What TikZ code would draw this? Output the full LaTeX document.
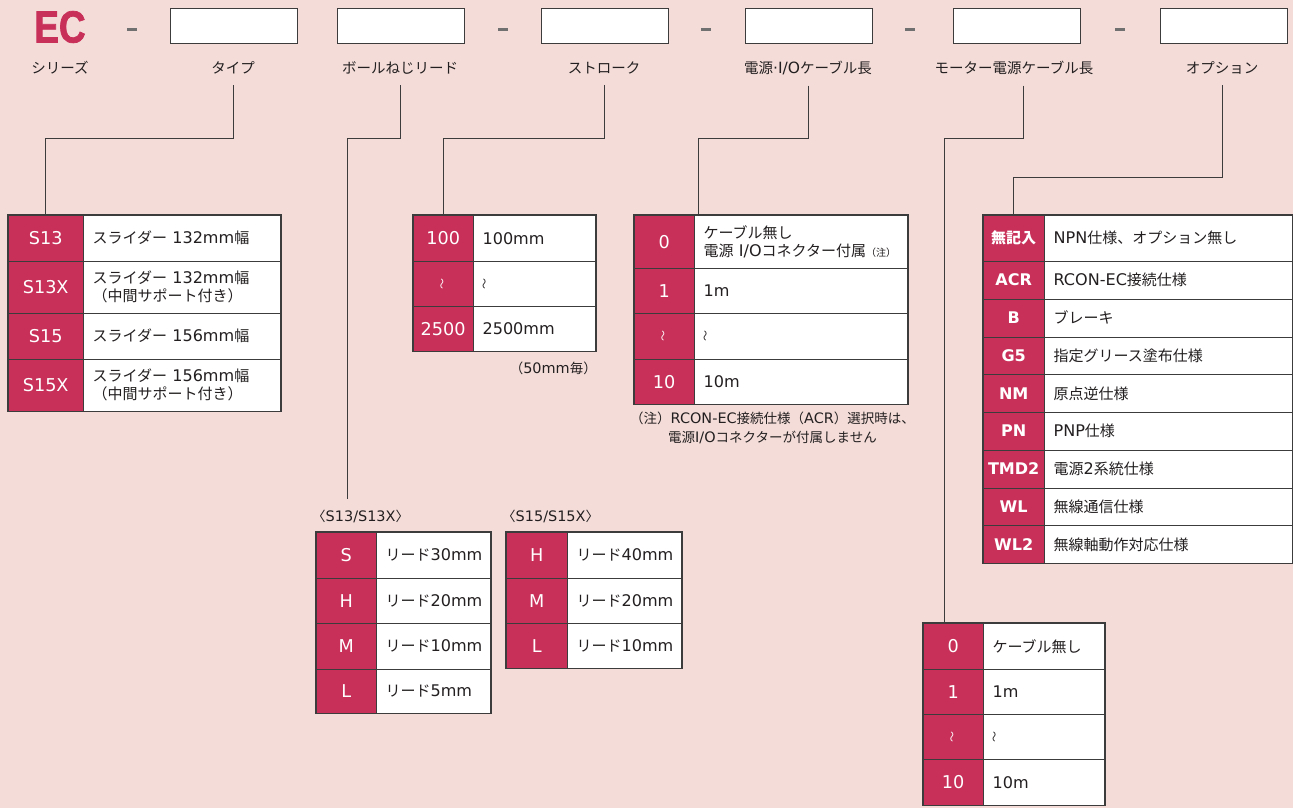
\documentclass[tikz,border=0pt]{standalone}
\usepackage{fontspec}
\usepackage{graphicx}
\usetikzlibrary{positioning}
\setmainfont{DejaVu Sans}[Scale=1.07]
\newfontfamily\lafont{DejaVu Sans}[Scale=1.07]
\newfontfamily\jafont{Noto Sans CJK JP}
\newfontfamily\ecfont{Liberation Sans Bold}[FakeStretch=0.82, FakeBold=1.6]
% Japanese runs switch to the CJK font by themselves
\makeatletter
\newXeTeXintercharclass\jaclass
\newcommand\setjarange[2]{\count@=#1\relax
  \loop\XeTeXcharclass\count@=\jaclass\relax\ifnum\count@<#2\advance\count@\@ne\repeat}
\setjarange{"3000}{"30FF}
\setjarange{"4E00}{"9FFF}
\setjarange{"FF00}{"FFEF}
\makeatother
\XeTeXinterchartoks 0 \jaclass = {\jafont}
\XeTeXinterchartoks 4095 \jaclass = {\jafont}
\XeTeXinterchartoks \jaclass 0 = {\lafont}
\XeTeXinterchartoks \jaclass 4095 = {\lafont}
\XeTeXinterchartokenstate=1
\definecolor{bgpink}{HTML}{F4DDD9}
\definecolor{ecred}{HTML}{C8305A}
\definecolor{inkgray}{HTML}{3C3C3C}
\definecolor{dashgray}{HTML}{707070}
\definecolor{txtdark}{HTML}{231F20}
\newcommand\tabfont{\fontsize{15}{18}\selectfont}
\newcommand\codefont{\fontsize{16.5}{18}\selectfont}
\newcommand\lblfont{\fontsize{14.5}{17}\selectfont}
\newcommand\notefont{\fontsize{13.5}{19}\selectfont}
\newcommand\wv{\rotatebox[origin=c]{90}{\fontsize{11}{11}\selectfont 〜}}
\begin{document}
\begin{tikzpicture}[x=1pt, y=-1pt,
    codecell/.style={draw=inkgray, fill=ecred, text=white, anchor=north west, inner sep=0pt, font=\codefont},
    optcell/.style={codecell, font=\tabfont\bfseries},
    desccell/.style={draw=inkgray, fill=white, text=txtdark, align=left, inner xsep=9pt, inner ysep=0pt, font=\tabfont},
    tabframe/.style={draw=inkgray, line width=1.4pt},
    slot/.style={draw=inkgray, fill=white, line width=1pt, anchor=north west, minimum width=127, minimum height=35, inner sep=0pt},
    bar/.style={fill=dashgray, minimum width=10, minimum height=3, inner sep=0pt},
    lbl/.style={text=txtdark, font=\lblfont},
    conn/.style={draw=inkgray, line width=1pt},
    note/.style={text=txtdark, font=\notefont, inner sep=0pt}]
    \path[use as bounding box, fill=bgpink] (0,0) rectangle (1293,808);

    % model code header
    \node (ec) at (60,27) [text=ecred, font=\ecfont\fontsize{45}{45}\selectfont, inner sep=0pt] {EC};
    \node (d1) at (132,30) [bar] {};
    \node (b1) at (170,8) [slot] {};
    \node (b2) at (337,8) [slot] {};
    \node (d2) at (503,30) [bar] {};
    \node (b3) at (541,8) [slot] {};
    \node (d3) at (706,30) [bar] {};
    \node (b4) at (745,8) [slot] {};
    \node (d4) at (910,30) [bar] {};
    \node (b5) at (953,8) [slot] {};
    \node (d5) at (1120,30) [bar] {};
    \node (b6) at (1160,8) [slot] {};

    \node (lbseries) at (60,68) [lbl] {シリーズ};
    \node (lbtype) at (233,68) [lbl] {タイプ};
    \node (lblead) at (400,68) [lbl] {ボールねじリード};
    \node (lbstroke) at (604,68) [lbl] {ストローク};
    \node (lbcable) at (808,68) [lbl] {電源·I/Oケーブル長};
    \node (lbmotor) at (1014,68) [lbl] {モーター電源ケーブル長};
    \node (lbopt) at (1222,68) [lbl] {オプション};

    % type
    \node (t1c) at (8,215) [codecell, minimum width=75, minimum height=46] {S13};
    \node (t1d) [desccell, right=0pt of t1c, text width=179, minimum height=46] {スライダー 132mm幅};
    \node (t2c) at (8,261) [codecell, minimum width=75, minimum height=52] {S13X};
    \node (t2d) [desccell, right=0pt of t2c, text width=179, minimum height=52] {スライダー 132mm幅\\（中間サポート付き）};
    \node (t3c) at (8,313) [codecell, minimum width=75, minimum height=46] {S15};
    \node (t3d) [desccell, right=0pt of t3c, text width=179, minimum height=46] {スライダー 156mm幅};
    \node (t4c) at (8,359) [codecell, minimum width=75, minimum height=52] {S15X};
    \node (t4d) [desccell, right=0pt of t4c, text width=179, minimum height=52] {スライダー 156mm幅\\（中間サポート付き）};
    \draw[tabframe] (t1c.north west) rectangle (t4d.south east);

    % stroke
    \node (s1c) at (413,215) [codecell, minimum width=60, minimum height=46] {100};
    \node (s1d) [desccell, right=0pt of s1c, text width=104, minimum height=46] {100mm};
    \node (s2c) at (413,261) [codecell, minimum width=60, minimum height=45] {\wv};
    \node (s2d) [desccell, right=0pt of s2c, text width=104, minimum height=45] {\wv};
    \node (s3c) at (413,306) [codecell, minimum width=60, minimum height=45] {2500};
    \node (s3d) [desccell, right=0pt of s3c, text width=104, minimum height=45] {2500mm};
    \draw[tabframe] (s1c.north west) rectangle (s3d.south east);
    \node (spitch) at (597,368) [note, anchor=east] {（50mm毎）};

    % power / I/O cable
    \node (p1c) at (634,215) [codecell, minimum width=60, minimum height=53] {0};
    \node (p1d) [desccell, right=0pt of p1c, text width=195, minimum height=53] {ケーブル無し\\電源 I/Oコネクター付属{\fontsize{10}{10}\selectfont（注）}};
    \node (p2c) at (634,268) [codecell, minimum width=60, minimum height=45] {1};
    \node (p2d) [desccell, right=0pt of p2c, text width=195, minimum height=45] {1m};
    \node (p3c) at (634,313) [codecell, minimum width=60, minimum height=46] {\wv};
    \node (p3d) [desccell, right=0pt of p3c, text width=195, minimum height=46] {\wv};
    \node (p4c) at (634,359) [codecell, minimum width=60, minimum height=45] {10};
    \node (p4d) [desccell, right=0pt of p4c, text width=195, minimum height=45] {10m};
    \draw[tabframe] (p1c.north west) rectangle (p4d.south east);
    \node (pnote) at (630,412) [note, anchor=north west, align=left] {（注）RCON-EC接続仕様（ACR）選択時は、\\\hspace{38pt}電源I/Oコネクターが付属しません};

    % options
    \node (o1c) at (983,215) [optcell, minimum width=61, minimum height=46] {無記入};
    \node (o1d) [desccell, right=0pt of o1c, text width=230, minimum height=46] {NPN仕様、オプション無し};
    \node (o2c) at (983,261) [optcell, minimum width=61, minimum height=37.75] {ACR};
    \node (o2d) [desccell, right=0pt of o2c, text width=230, minimum height=37.75] {RCON-EC接続仕様};
    \node (o3c) at (983,298.75) [optcell, minimum width=61, minimum height=37.75] {B};
    \node (o3d) [desccell, right=0pt of o3c, text width=230, minimum height=37.75] {ブレーキ};
    \node (o4c) at (983,336.5) [optcell, minimum width=61, minimum height=37.75] {G5};
    \node (o4d) [desccell, right=0pt of o4c, text width=230, minimum height=37.75] {指定グリース塗布仕様};
    \node (o5c) at (983,374.25) [optcell, minimum width=61, minimum height=37.75] {NM};
    \node (o5d) [desccell, right=0pt of o5c, text width=230, minimum height=37.75] {原点逆仕様};
    \node (o6c) at (983,412) [optcell, minimum width=61, minimum height=37.75] {PN};
    \node (o6d) [desccell, right=0pt of o6c, text width=230, minimum height=37.75] {PNP仕様};
    \node (o7c) at (983,449.75) [optcell, minimum width=61, minimum height=37.75] {TMD2};
    \node (o7d) [desccell, right=0pt of o7c, text width=230, minimum height=37.75] {電源2系統仕様};
    \node (o8c) at (983,487.5) [optcell, minimum width=61, minimum height=37.75] {WL};
    \node (o8d) [desccell, right=0pt of o8c, text width=230, minimum height=37.75] {無線通信仕様};
    \node (o9c) at (983,525.25) [optcell, minimum width=61, minimum height=37.75] {WL2};
    \node (o9d) [desccell, right=0pt of o9c, text width=230, minimum height=37.75] {無線軸動作対応仕様};
    \draw[tabframe] (o1c.north west) rectangle (o9d.south east);

    % ball screw lead
    \node (l13lab) at (312,516) [note, anchor=west] {〈S13/S13X〉};
    \node (a1c) at (316,532) [codecell, minimum width=60, minimum height=46] {S};
    \node (a1d) [desccell, right=0pt of a1c, text width=96, minimum height=46] {リード30mm};
    \node (a2c) at (316,578) [codecell, minimum width=60, minimum height=45] {H};
    \node (a2d) [desccell, right=0pt of a2c, text width=96, minimum height=45] {リード20mm};
    \node (a3c) at (316,623) [codecell, minimum width=60, minimum height=46] {M};
    \node (a3d) [desccell, right=0pt of a3c, text width=96, minimum height=46] {リード10mm};
    \node (a4c) at (316,669) [codecell, minimum width=60, minimum height=44] {L};
    \node (a4d) [desccell, right=0pt of a4c, text width=96, minimum height=44] {リード5mm};
    \draw[tabframe] (a1c.north west) rectangle (a4d.south east);

    \node (l15lab) at (502,516) [note, anchor=west] {〈S15/S15X〉};
    \node (c1c) at (506,532) [codecell, minimum width=61, minimum height=46] {H};
    \node (c1d) [desccell, right=0pt of c1c, text width=96, minimum height=46] {リード40mm};
    \node (c2c) at (506,578) [codecell, minimum width=61, minimum height=45] {M};
    \node (c2d) [desccell, right=0pt of c2c, text width=96, minimum height=45] {リード20mm};
    \node (c3c) at (506,623) [codecell, minimum width=61, minimum height=45] {L};
    \node (c3d) [desccell, right=0pt of c3c, text width=96, minimum height=45] {リード10mm};
    \draw[tabframe] (c1c.north west) rectangle (c3d.south east);

    % motor cable
    \node (m1c) at (923,623) [codecell, minimum width=60, minimum height=46] {0};
    \node (m1d) [desccell, right=0pt of m1c, text width=103, minimum height=46] {ケーブル無し};
    \node (m2c) at (923,669) [codecell, minimum width=60, minimum height=45] {1};
    \node (m2d) [desccell, right=0pt of m2c, text width=103, minimum height=45] {1m};
    \node (m3c) at (923,714) [codecell, minimum width=60, minimum height=45] {\wv};
    \node (m3d) [desccell, right=0pt of m3c, text width=103, minimum height=45] {\wv};
    \node (m4c) at (923,759) [codecell, minimum width=60, minimum height=46] {10};
    \node (m4d) [desccell, right=0pt of m4c, text width=103, minimum height=46] {10m};
    \draw[tabframe] (m1c.north west) rectangle (m4d.south east);

    % leaders
    \coordinate (leadend) at (347,499);
    \coordinate (pdrop) at ([xshift=4pt]p1c.north east);
    \coordinate (mstart) at ([xshift=9pt]lbmotor.south);
    \coordinate (mdrop) at ([xshift=-9pt]m1c.north);
    \draw[conn, shorten <=7pt] (lbtype.south) -- (lbtype.south |- 0,138) -| (t1c.north);
    \draw[conn, shorten <=7pt] (lblead.south) -- (lblead.south |- 0,138) -| (leadend);
    \draw[conn, shorten <=7pt] (lbstroke.south) -- (lbstroke.south |- 0,138) -| (s1c.north);
    \draw[conn, shorten <=7pt] (lbcable.south) -- (lbcable.south |- 0,138) -| (pdrop);
    \draw[conn, shorten <=7pt] (mstart) -- (mstart |- 0,138) -| (mdrop);
    \draw[conn, shorten <=7pt] (lbopt.south) -- (lbopt.south |- 0,177) -| (o1c.north);
\end{tikzpicture}
\end{document}
